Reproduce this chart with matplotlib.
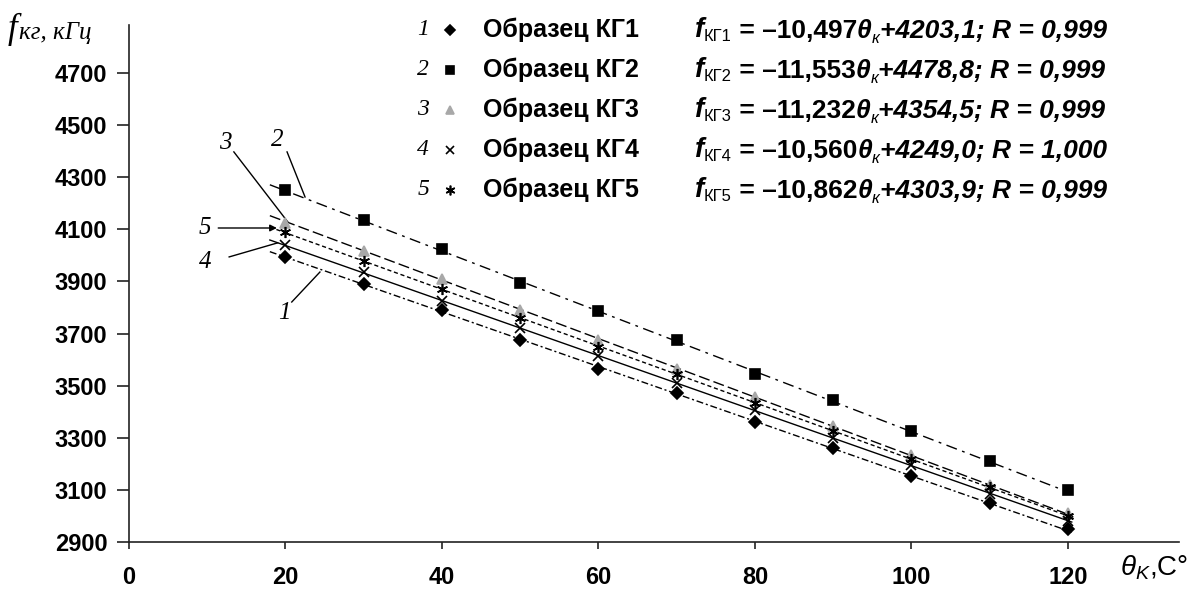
import numpy as np
import matplotlib.pyplot as plt

plt.rcParams['font.family'] = ['Liberation Sans', 'DejaVu Sans']
plt.rcParams['mathtext.fontset'] = 'custom'
plt.rcParams['mathtext.sf'] = 'Liberation Sans:italic'

# data
theta = [20, 30, 40, 50, 60, 70, 80, 90, 100, 110, 120]
kg1 = [3995, 3890, 3790, 3675, 3565, 3470, 3360, 3260, 3155, 3050, 2950]
kg2 = [4250, 4135, 4025, 3895, 3785, 3675, 3545, 3445, 3325, 3210, 3100]
kg3 = [4125, 4015, 3910, 3790, 3675, 3565, 3455, 3345, 3235, 3120, 3010]
kg4 = [4040, 3935, 3825, 3720, 3615, 3510, 3405, 3300, 3195, 3085, 2980]
kg5 = [4090, 3980, 3870, 3760, 3650, 3545, 3435, 3325, 3220, 3110, 3000]

names = ['Образец КГ1', 'Образец КГ2', 'Образец КГ3', 'Образец КГ4', 'Образец КГ5']
nums = ['1', '2', '3', '4', '5']
slopes = ['10,497', '11,553', '11,232', '10,560', '10,862']
inters = ['4203,1', '4478,8', '4354,5', '4249,0', '4303,9']
rvals = ['0,999', '0,999', '0,999', '1,000', '0,999']
k = [-10.497, -11.553, -11.232, -10.560, -10.862]
b = [4203.1, 4478.8, 4354.5, 4249.0, 4303.9]
fit_range = [18, 120.5]

xticks = [0, 20, 40, 60, 80, 100, 120]
yticks = [2900, 3100, 3300, 3500, 3700, 3900, 4100, 4300, 4500, 4700]

series = [kg1, kg2, kg3, kg4, kg5]
markers = ['D', 's', '^', 'x', (6, 2, 0)]
msizes = [6, 7, 7, 7, 8]
mcolors = ['black', 'black', '#a8a8a8', 'black', 'black']
lstyles = [(0, (5, 2, 1.5, 2)), (0, (8, 4, 2, 4)), (0, (8, 3)), '-', (0, (3, 2))]

fig = plt.figure(figsize=(11.98, 5.91), dpi=100)
ax = fig.add_axes([0.1077, 0.0829, 0.8764, 0.8748])

for i in range(5):
    xf = np.array(fit_range)
    ax.plot(xf, k[i] * xf + b[i], color='black', lw=1.0, ls=lstyles[i], zorder=2)
    ax.plot(theta, series[i], ls='none', marker=markers[i], ms=msizes[i],
            color=mcolors[i], mec=mcolors[i], mew=1.2, zorder=3)

ax.set_xlim(0, 134.2)
ax.set_ylim(2900, 4884)
ax.set_xticks(xticks)
ax.set_yticks(yticks)
ax.spines['top'].set_visible(False)
ax.spines['right'].set_visible(False)
for s in ['left', 'bottom']:
    ax.spines[s].set_linewidth(1.2)
    ax.spines[s].set_color('#222222')
ax.tick_params(axis='y', length=8.5, width=1.2, pad=7, color='#222222')
ax.tick_params(axis='x', length=5, width=1.2, pad=12, color='#222222')
for lab in ax.get_xticklabels() + ax.get_yticklabels():
    lab.set_fontsize(17)
    lab.set_fontweight('bold')


def nxt(prev, base, s, size, dy=0, **kw):
    # put text s right after prev, bottom aligned with base
    return ax.annotate(s, xy=(1, 0), xycoords=(prev, base), xytext=(0, dy),
                       textcoords='offset points', fontsize=size, va='bottom',
                       ha='left', annotation_clip=False, **kw)


# legend block drawn by hand
row_y = [4865, 4712, 4558, 4405, 4251]
for i in range(5):
    ax.text(37.6, row_y[i], nums[i], fontsize=17, family='Liberation Serif',
            style='italic', ha='center', va='center')
    ax.plot([41.0], [row_y[i]], marker=markers[i], ms=msizes[i] - 1, color=mcolors[i],
            mec=mcolors[i], mew=1.2, ls='none', clip_on=False)
    ax.text(45.2, row_y[i], names[i], fontsize=18, fontweight='bold', va='center')
    f = ax.text(72.3, row_y[i], 'f', fontsize=20, fontweight='bold', style='italic',
                va='center')
    p = nxt(f, f, 'КГ' + nums[i], 12, dy=-1)
    p = nxt(p, f, ' = –' + slopes[i], 19, fontweight='bold')
    p = nxt(p, f, 'θ', 19, fontweight='bold', style='italic')
    p = nxt(p, f, 'к', 12, dy=-2, style='italic')
    p = nxt(p, f, '+' + inters[i] + '; R = ' + rvals[i], 19, fontweight='bold',
            style='italic')

# curve labels with leader lines
lab_xy = [(19.9, 3779), (18.9, 4443), (12.3, 4432), (9.7, 3975), (9.7, 4105)]
lead = [((20.8, 3821), (24.4, 3936)), ((20.2, 4397), (22.5, 4224)),
        ((13.4, 4397), (20.3, 4128)), ((12.8, 3994), (19.0, 4048)),
        ((11.4, 4105), (18.9, 4105))]
for i in range(5):
    ax.text(lab_xy[i][0], lab_xy[i][1], nums[i], fontsize=18, family='Liberation Serif',
            style='italic', ha='center', va='center')
    if i == 4:
        ax.annotate('', xy=lead[i][1], xytext=lead[i][0],
                    arrowprops=dict(arrowstyle='-|>', lw=1.0, color='black',
                                    mutation_scale=10, shrinkA=0, shrinkB=0))
    else:
        ax.plot([lead[i][0][0], lead[i][1][0]], [lead[i][0][1], lead[i][1][1]],
                color='black', lw=1.0)

# axis titles
t = fig.text(8 / 1198, 1 - 46 / 591, 'f', fontsize=25, family='Liberation Serif',
             style='italic', va='bottom')
ax.annotate('кг, кГц', xy=(1, 0), xycoords=t, xytext=(1, 1.5), textcoords='offset points',
            fontsize=18, family='Liberation Serif', style='italic', va='bottom',
            annotation_clip=False)
fig.text(1120 / 1198, 1 - 575 / 591, r'$\mathsf{θ}_{\mathsf{K}}$,C°', fontsize=20,
         ha='left', va='baseline')

fig.savefig('out.png', dpi=100)
